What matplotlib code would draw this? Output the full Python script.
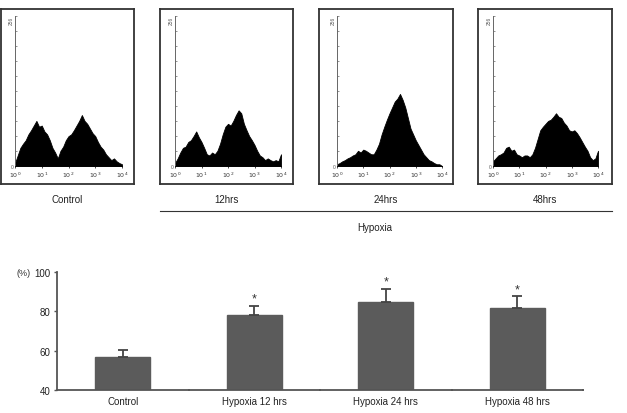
import numpy as np
import matplotlib
matplotlib.use("Agg")
import matplotlib.pyplot as plt

plt.rcParams['font.family'] = ['Liberation Sans', 'DejaVu Sans']

# ---------------- data ----------------
log_fl = np.round(np.arange(0, 4.01, 0.1), 2)  # log10 fluorescence, 10^0..10^4
hist_control = [5, 18, 31, 38, 44, 54, 61, 69, 77, 67, 69, 59, 54, 44, 31, 23, 13, 26, 33, 44,
                51, 54, 61, 69, 77, 87, 77, 72, 64, 56, 51, 41, 33, 28, 20, 15, 10, 13, 8, 5, 3]
hist_12h = [5, 13, 23, 31, 33, 41, 44, 51, 59, 49, 41, 31, 20, 18, 23, 20, 26, 38, 54, 67,
            72, 69, 77, 87, 95, 90, 72, 61, 51, 44, 36, 26, 18, 15, 10, 13, 10, 8, 10, 8, 20]
hist_24h = [3, 5, 8, 10, 13, 15, 18, 20, 26, 23, 28, 26, 23, 20, 20, 28, 38, 54, 67, 79,
            90, 100, 110, 115, 123, 113, 100, 82, 64, 54, 44, 36, 28, 20, 15, 10, 8, 5, 3, 3, 0]
hist_48h = [8, 13, 18, 20, 23, 31, 33, 26, 28, 20, 18, 15, 18, 18, 15, 20, 31, 46, 61, 67,
            72, 77, 79, 84, 90, 84, 82, 74, 69, 61, 59, 61, 56, 49, 41, 33, 26, 15, 10, 13, 26]
hist_labels = ["Control", "12hrs", "24hrs", "48hrs"]
hist_ytick_labels = ["0", "256"]
hist_xtick_labels = [r"$10^{0}$", r"$10^{1}$", r"$10^{2}$", r"$10^{3}$", r"$10^{4}$"]
group_label = "Hypoxia"

bar_categories = ["Control", "Hypoxia 12 hrs", "Hypoxia 24 hrs", "Hypoxia 48 hrs"]
bar_values = [57.0, 78.3, 84.5, 81.8]
bar_errors = [3.5, 4.5, 7.0, 6.0]
bar_signif = ["", "*", "*", "*"]
bar_yticks = [40, 60, 80, 100]

# ---------------- figure ----------------
W, H = 627, 414
fig = plt.figure(figsize=(W / 100, H / 100), dpi=100)


def fx(px):
    return px / W


def fy(py):
    return 1 - py / H


# panel geometry in pixels: (box_left, box_right, inner_left, inner_right)
panels = [(1, 134, 15, 122), (160, 293, 175, 281), (319, 453, 337, 442), (478, 612, 493, 598)]
box_top, box_bot = 10, 185
inner_top, inner_bot = 17, 167
hists = [hist_control, hist_12h, hist_24h, hist_48h]

for (bl, br, il, ir), hv, lab in zip(panels, hists, hist_labels):
    # outer frame
    fr = fig.add_axes([fx(bl), fy(box_bot), fx(br - bl), (box_bot - box_top) / H])
    fr.set_xticks([])
    fr.set_yticks([])
    for s in fr.spines.values():
        s.set_linewidth(1.3)
        s.set_color("#333333")
    fr.patch.set_alpha(0)
    # inner histogram
    ax = fig.add_axes([fx(il), fy(inner_bot), fx(ir - il), (inner_bot - inner_top) / H])
    ax.fill_between(log_fl, 0, hv, color="black", lw=0.6, edgecolor="black")
    ax.set_xlim(0, 4)
    ax.set_ylim(0, 256)
    ax.patch.set_alpha(0)
    for s in ["top", "right"]:
        ax.spines[s].set_visible(False)
    ax.spines["left"].set_linewidth(0.7)
    ax.spines["left"].set_color("#666666")
    ax.spines["left"].set_linestyle((0, (2, 1)))
    ax.spines["bottom"].set_linewidth(0.6)
    ax.set_xticks(range(5))
    ax.set_xticklabels(hist_xtick_labels, fontsize=4.5, color="#333333")
    ax.tick_params(axis="x", length=1.5, width=0.5, pad=1.5)
    yt = np.linspace(0, 256, 11)
    ax.set_yticks(yt)
    ax.set_yticklabels([hist_ytick_labels[0]] + [""] * 9 + [hist_ytick_labels[1]], fontsize=3.5,
                       color="#555555")
    ax.tick_params(axis="y", length=1.5, width=0.5, pad=0.8, direction="in", color="#666666")
    ax.get_yticklabels()[-1].set_rotation(90)
    ax.get_yticklabels()[-1].set_va("top")
    fig.text(fx((bl + br) / 2), fy(200), lab, ha="center", va="center", fontsize=7, color="#222222")

# group line for hypoxia
fig.add_artist(plt.Line2D([fx(160), fx(612)], [fy(212), fy(212)], color="#333333", lw=0.8))
fig.text(fx(375), fy(228), group_label, ha="center", va="center", fontsize=7, color="#222222")

# ---------------- bar chart ----------------
bx = fig.add_axes([fx(57), fy(391), fx(583 - 57), (391 - 273) / H])
x = np.arange(len(bar_categories))
bx.bar(x, bar_values, width=0.42, bottom=0, color="#5b5b5b", edgecolor="#5b5b5b", zorder=2)
bx.errorbar(x, bar_values, yerr=[np.zeros(len(x)), bar_errors], fmt="none", ecolor="#444444",
            elinewidth=1.3, capsize=3.5, capthick=1.3, zorder=3)
for xi, v, e, s in zip(x, bar_values, bar_errors, bar_signif):
    if s:
        bx.text(xi, v + e + 0.5, s, ha="center", va="bottom", fontsize=9, color="#333333")
bx.set_xlim(-0.5, 3.5)
bx.set_ylim(40, 100)
bx.set_yticks(bar_yticks)
bx.set_yticklabels([str(t) for t in bar_yticks], fontsize=7, color="#222222")
bx.set_xticks(x)
bx.set_xticklabels(bar_categories, fontsize=7, color="#222222")
bx.set_xticks([0.5, 1.5, 2.5, 3.5], minor=True)
bx.tick_params(axis="x", which="major", length=0, pad=4)
bx.tick_params(axis="x", which="minor", length=2, width=1.2, direction="inout", color="#555555")
bx.tick_params(axis="y", length=2.5, width=1, color="#555555", pad=2)
for s in ["top", "right"]:
    bx.spines[s].set_visible(False)
for s in ["left", "bottom"]:
    bx.spines[s].set_linewidth(1.3)
    bx.spines[s].set_color("#555555")
    bx.spines[s].set_zorder(4)
fig.text(fx(24), fy(273), "(%)", ha="center", va="center", fontsize=6.5, color="#333333")

fig.savefig("out.png", dpi=100)
